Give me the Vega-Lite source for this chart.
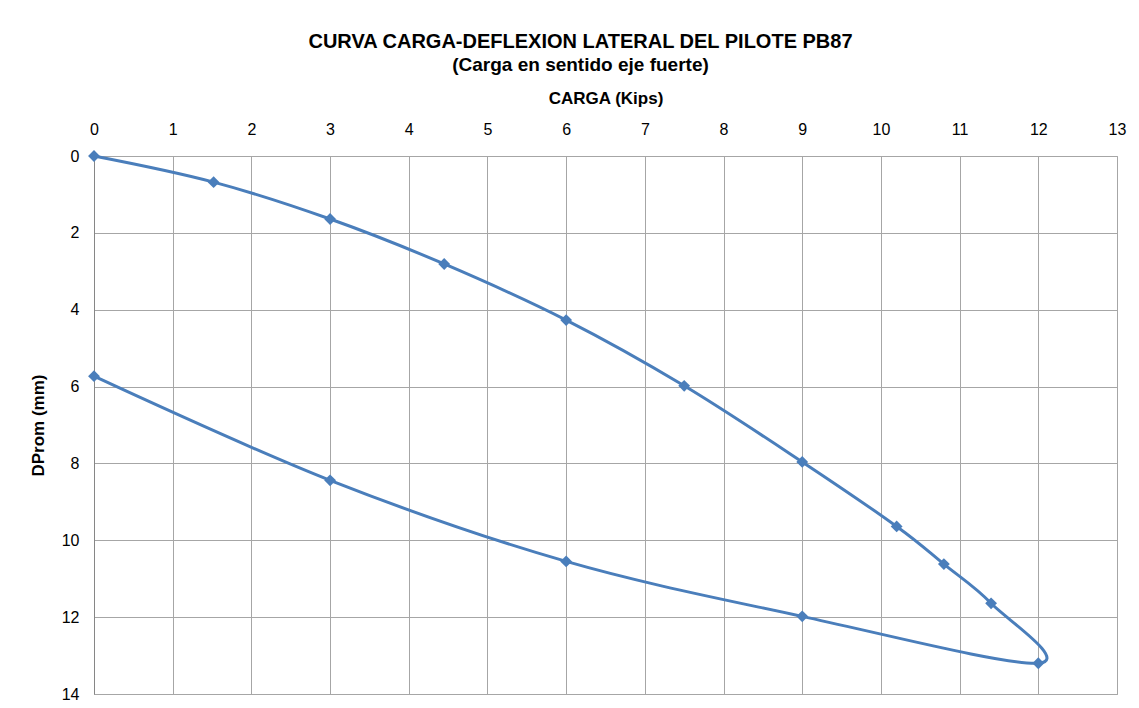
{
  "$schema": "https://vega.github.io/schema/vega-lite/v6.json",
  "width": 1023,
  "height": 538,
  "autosize": {"type": "none"},
  "padding": {"left": 94, "top": 156, "right": 22, "bottom": 14},
  "background": "white",
  "title": {
    "text": "CURVA CARGA-DEFLEXION LATERAL DEL PILOTE PB87",
    "subtitle": "(Carga en sentido eje fuerte)",
    "font": "Liberation Sans",
    "fontSize": 20,
    "fontWeight": "bold",
    "color": "#000000",
    "subtitleFont": "Liberation Sans",
    "subtitleFontSize": 19,
    "subtitleFontWeight": "bold",
    "subtitleColor": "#000000",
    "subtitlePadding": 4,
    "anchor": "middle",
    "offset": 14,
    "dx": -25
  },
  "data": {
    "values": [
      {"orden": 1, "carga": 0, "dprom": 0},
      {"orden": 2, "carga": 1.52, "dprom": 0.68},
      {"orden": 3, "carga": 3.0, "dprom": 1.64},
      {"orden": 4, "carga": 4.45, "dprom": 2.81},
      {"orden": 5, "carga": 6.0, "dprom": 4.27},
      {"orden": 6, "carga": 7.5, "dprom": 5.98},
      {"orden": 7, "carga": 9.0, "dprom": 7.96},
      {"orden": 8, "carga": 10.2, "dprom": 9.64},
      {"orden": 9, "carga": 10.8, "dprom": 10.62},
      {"orden": 10, "carga": 11.4, "dprom": 11.64},
      {"orden": 11, "carga": 12.0, "dprom": 13.2},
      {"orden": 12, "carga": 9.0, "dprom": 11.98},
      {"orden": 13, "carga": 6.0, "dprom": 10.55},
      {"orden": 14, "carga": 3.0, "dprom": 8.44},
      {"orden": 15, "carga": 0, "dprom": 5.73}
    ]
  },
  "mark": {
    "type": "line",
    "interpolate": "cardinal",
    "color": "#4A7EBB",
    "strokeWidth": 3,
    "point": {"shape": "diamond", "filled": true, "size": 140, "color": "#4A7EBB"}
  },
  "encoding": {
    "x": {
      "field": "carga",
      "type": "quantitative",
      "scale": {"domain": [0, 13], "nice": false, "zero": false},
      "axis": {
        "orient": "top",
        "title": "CARGA (Kips)",
        "values": [0, 1, 2, 3, 4, 5, 6, 7, 8, 9, 10, 11, 12, 13],
        "ticks": false,
        "domain": false,
        "grid": true,
        "gridColor": "#a6a6a6",
        "gridWidth": 1,
        "labelFont": "Liberation Sans",
        "labelFontSize": 16,
        "labelColor": "#000000",
        "labelPadding": 19,
        "labelFlush": false,
        "titleFont": "Liberation Sans",
        "titleFontSize": 17,
        "titleFontWeight": "bold",
        "titleColor": "#000000",
        "titlePadding": 14
      }
    },
    "y": {
      "field": "dprom",
      "type": "quantitative",
      "scale": {"domain": [0, 14], "nice": false, "zero": false, "reverse": true},
      "axis": {
        "title": "DProm (mm)",
        "values": [0, 2, 4, 6, 8, 10, 12, 14],
        "ticks": false,
        "domain": true,
        "domainColor": "#868686",
        "grid": true,
        "gridColor": "#a6a6a6",
        "gridWidth": 1,
        "labelFont": "Liberation Sans",
        "labelFontSize": 16,
        "labelColor": "#000000",
        "labelPadding": 15,
        "labelFlush": false,
        "titleFont": "Liberation Sans",
        "titleFontSize": 17,
        "titleFontWeight": "bold",
        "titleColor": "#000000",
        "titlePadding": 14
      }
    },
    "order": {"field": "orden", "type": "quantitative"}
  },
  "config": {
    "view": {"stroke": "#a6a6a6", "strokeWidth": 1}
  }
}
